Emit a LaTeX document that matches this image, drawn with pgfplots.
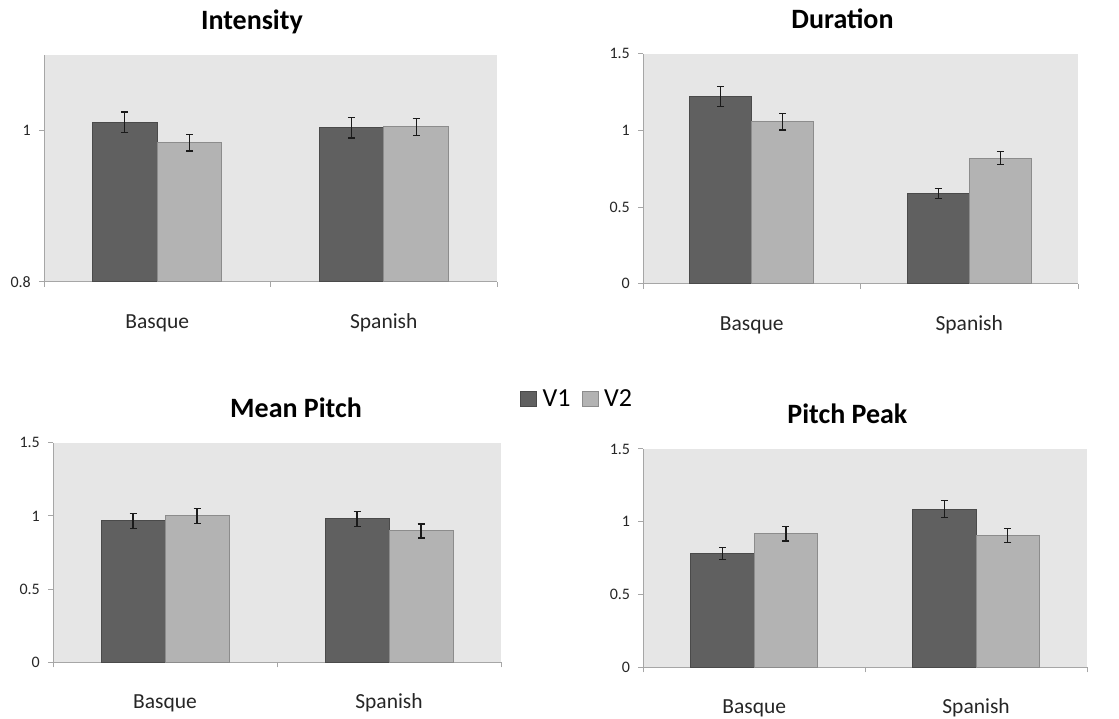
\documentclass[border=0pt]{standalone}
\usepackage{fontspec}
\setmainfont{Carlito}
\usepackage{pgfplots}
\pgfplotsset{compat=1.18}
\definecolor{bggray}{HTML}{E6E6E6}
\definecolor{axgray}{HTML}{A6A6A6}
\definecolor{v1fill}{HTML}{606060}
\definecolor{v1draw}{HTML}{4A4A4A}
\definecolor{v2fill}{HTML}{B3B3B3}
\definecolor{v2draw}{HTML}{8C8C8C}
\definecolor{errcol}{HTML}{1A1A1A}
\pgfplotsset{
 panel/.style={
   scale only axis, ybar, bar width=0.2857, xmin=0, xmax=2,
   axis x line*=bottom, axis y line*=left,
   axis background/.style={fill=bggray, draw=none},
   axis line style={draw=axgray, line width=1pt},
   tick align=outside, major tick length=5pt, minor tick length=5pt,
   xtick={0.5,1.5}, xticklabels={Basque,Spanish},
   minor xtick={0,1,2},
   major x tick style={draw=none},
   minor x tick style={draw=axgray, line width=1pt},
   y tick style={draw=axgray, line width=1pt},
   /pgf/number format/assume math mode=true,
   yticklabel style={font=\fontsize{16}{19}\selectfont, color=black!85, anchor=east, inner sep=0pt, xshift=-8pt},
   xticklabel style={font=\fontsize{21.5}{26}\selectfont, color=black!85, anchor=base, yshift=-41.5pt, inner sep=0pt},
   title style={font=\fontsize{28}{34}\selectfont\bfseries, anchor=base, yshift=19.5pt, inner sep=0pt},
 },
 sqlegend/.style={legend image code/.code={\draw[##1] (0pt,-7.5pt) rectangle (16pt,7.5pt);}},
 v1/.style={fill=v1fill, draw=v1draw, line width=1pt, bar shift=-0.142857,
   error bars/y dir=both, error bars/y explicit,
   error bars/error bar style={draw=errcol, line width=1.2pt},
   error bars/error mark options={rotate=90, draw=errcol, mark size=3.5pt, line width=1.2pt}},
 v2/.style={fill=v2fill, draw=v2draw, line width=1pt, bar shift=0.142857,
   error bars/y dir=both, error bars/y explicit,
   error bars/error bar style={draw=errcol, line width=1.2pt},
   error bars/error mark options={rotate=90, draw=errcol, mark size=3.5pt, line width=1.2pt}},
}
\begin{document}
\begin{tikzpicture}
\path[use as bounding box] (0,0) rectangle (1119pt,719pt);
% Intensity
\begin{axis}[panel, at={(44pt,437pt)}, anchor=south west, width=453pt, height=227pt,
  ymin=0.8, ymax=1.1, ytick={0.8,1}, title={Intensity}, title style={at={(0.459,1)}}]
\addplot[v1] coordinates {(0.5,1.011) +- (0,0.0137) (1.5,1.004) +- (0,0.0137)};
\addplot[v2] coordinates {(0.5,0.984) +- (0,0.011) (1.5,1.005) +- (0,0.0115)};
\end{axis}
% Duration
\begin{axis}[panel, at={(643pt,435.3pt)}, anchor=south west, width=435pt, height=230pt,
  ymin=0, ymax=1.5, ytick={0,0.5,1,1.5}, title={Duration}, title style={at={(0.4586,1)}}]
\addplot[v1] coordinates {(0.5,1.219) +- (0,0.065) (1.5,0.590) +- (0,0.033)};
\addplot[v2] coordinates {(0.5,1.056) +- (0,0.054) (1.5,0.819) +- (0,0.042)};
\end{axis}
% Mean Pitch
\begin{axis}[panel, at={(53pt,56.7pt)}, anchor=south west, width=448pt, height=219.6pt,
  ymin=0, ymax=1.5, ytick={0,0.5,1,1.5}, title={Mean Pitch}, title style={at={(0.5424,1)}},
  legend style={at={(1.0424,1.198)}, anchor=west, draw=none, fill=none, inner sep=0pt,
    font=\fontsize{26}{30}\selectfont, legend columns=2,
    /tikz/every odd column/.append style={column sep=3.5pt},
    /tikz/every even column/.append style={column sep=9pt}}]
\addplot[v1, sqlegend] coordinates {(0.5,0.967) +- (0,0.051) (1.5,0.979) +- (0,0.051)};
\addlegendentry{V1}
\addplot[v2, sqlegend] coordinates {(0.5,1.000) +- (0,0.052) (1.5,0.897) +- (0,0.048)};
\addlegendentry{V2}
\end{axis}
% Pitch Peak
\begin{axis}[panel, at={(643.3pt,51.7pt)}, anchor=south west, width=443.7pt, height=218.3pt,
  ymin=0, ymax=1.5, ytick={0,0.5,1,1.5}, title={Pitch Peak}, title style={at={(0.460,1)}}]
\addplot[v1] coordinates {(0.5,0.783) +- (0,0.040) (1.5,1.087) +- (0,0.057)};
\addplot[v2] coordinates {(0.5,0.918) +- (0,0.050) (1.5,0.907) +- (0,0.047)};
\end{axis}
\end{tikzpicture}
\end{document}
